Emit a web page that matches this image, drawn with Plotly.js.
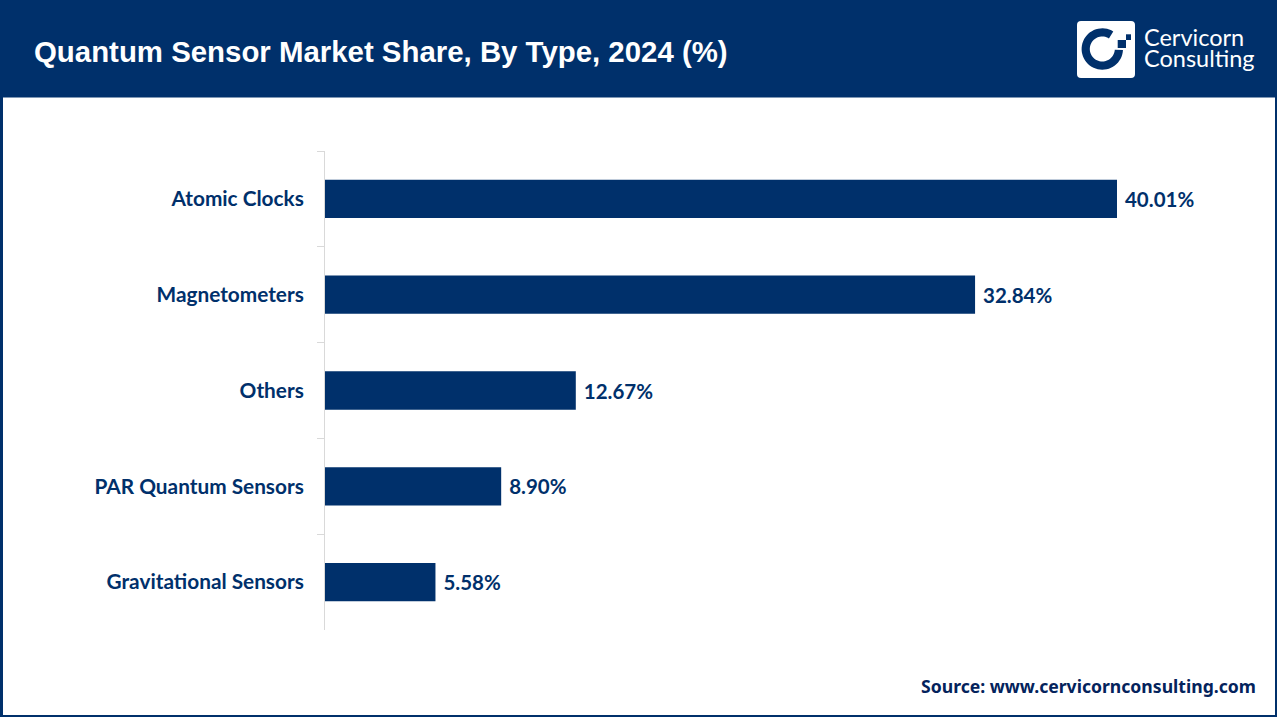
<!DOCTYPE html>
<html><head><meta charset="utf-8">
<script src="https://cdn.plot.ly/plotly-3.0.1.min.js"></script>
<style>html,body{margin:0;padding:0;background:#fff}#c{width:1280px;height:720px}</style>
</head><body><div id="c"></div>
<script>
const categories = ["Atomic Clocks","Magnetometers","Others","PAR Quantum Sensors","Gravitational Sensors"];
const shareValues = [40.01,32.84,12.67,8.90,5.58];
const chartTitle = "Quantum Sensor Market Share, By Type, 2024 (%)";
const sourceText = "Source: www.cervicornconsulting.com";
const logoLines = ["Cervicorn","Consulting"];

const W=1280,H=720,NAVY="#00306b";
const M={l:325,r:10,t:151,b:90};
const px=x=>(x-M.l)/(W-M.l-M.r), py=y=>1-(y-M.t)/(H-M.t-M.b);
const rect=(x0,y0,x1,y1,fill,line)=>({type:"rect",xref:"paper",yref:"paper",x0:px(x0),x1:px(x1),y0:py(y0),y1:py(y1),fillcolor:fill,line:line||{width:0},layer:"above"});
const P=(x,y)=>px(x).toFixed(5)+","+py(y).toFixed(5);
function roundRect(x0,y0,x1,y1,r){
  return "M"+P(x0+r,y0)+" L"+P(x1-r,y0)+" Q"+P(x1,y0)+" "+P(x1,y0+r)+" L"+P(x1,y1-r)+" Q"+P(x1,y1)+" "+P(x1-r,y1)+
   " L"+P(x0+r,y1)+" Q"+P(x0,y1)+" "+P(x0,y1-r)+" L"+P(x0,y0+r)+" Q"+P(x0,y0)+" "+P(x0+r,y0)+" Z";
}
function ring(cx,cy,ro,ri,a0,a1){
  const pts=[];
  for(let i=0;i<=48;i++){const a=(a0+(a1-a0)*i/48)*Math.PI/180;pts.push(P(cx+ro*Math.cos(a),cy+ro*Math.sin(a)));}
  for(let i=48;i>=0;i--){const a=(a0+(a1-a0)*i/48)*Math.PI/180;pts.push(P(cx+ri*Math.cos(a),cy+ri*Math.sin(a)));}
  return "M"+pts.join(" L")+" Z";
}
const pathShape=(d,fill)=>({type:"path",xref:"paper",yref:"paper",path:d,fillcolor:fill,line:{width:0},layer:"above"});

const shapes=[
  rect(0,0,1277,97.5,NAVY),
  rect(0,97,3,717,NAVY),
  rect(1275,97,1277,717,NAVY),
  rect(0,715,1277,717,NAVY),
  pathShape(roundRect(1077,21,1135,78,4),"#ffffff"),
  pathShape(ring(1102.3,49,20.7,12.5,3,302),NAVY),
  rect(1117.7,40,1126,48,NAVY),
  rect(1126,34.3,1131,40,NAVY)
];

const logoFont={family:"Lato, sans-serif",size:23.5,color:"#ffffff"};
const annotations=[
  {xref:"paper",yref:"paper",x:px(1142),y:py(37),xanchor:"left",yanchor:"middle",showarrow:false,text:logoLines[0],font:logoFont},
  {xref:"paper",yref:"paper",x:px(1142),y:py(58),xanchor:"left",yanchor:"middle",showarrow:false,text:logoLines[1],font:logoFont},
  {xref:"paper",yref:"paper",x:px(1258),y:py(686),xanchor:"right",yanchor:"middle",showarrow:false,text:"<b>"+sourceText+"</b>",font:{family:"'Noto Sans', sans-serif",size:17.6,color:"#04235c"}}
];

Plotly.newPlot("c",[{
  type:"bar",orientation:"h",y:categories,x:shareValues,
  marker:{color:NAVY,line:{width:0}},width:0.4,
  text:shareValues.map(v=>"\u00a0"+v.toFixed(2)+"%"),textposition:"outside",cliponaxis:false,
  textfont:{family:"Lato, sans-serif",size:20.5,color:NAVY,weight:700},
  hoverinfo:"y+x"
}],{
  width:W,height:H,margin:{l:M.l,r:M.r,t:M.t,b:M.b,pad:0},
  paper_bgcolor:"#ffffff",plot_bgcolor:"#ffffff",showlegend:false,
  title:{text:"<b>"+chartTitle+"</b>",xref:"container",yref:"container",x:34/W,xanchor:"left",y:1-52/H,yanchor:"middle",font:{family:"'Liberation Sans', Arial, sans-serif",size:29.4,color:"#ffffff"}},
  xaxis:{range:[0,(W-M.l-M.r)/19.795],visible:false,fixedrange:true},
  yaxis:{type:"category",categoryorder:"array",categoryarray:categories,autorange:false,range:[4.5,-0.5],
    showline:true,linecolor:"#d9d9d9",linewidth:1,showgrid:false,zeroline:false,
    ticks:"outside",tickson:"boundaries",ticklen:7,tickcolor:"#d9d9d9",tickwidth:1,ticklabelstandoff:16,
    tickfont:{family:"Lato, sans-serif",size:20.8,color:NAVY,weight:700},fixedrange:true},
  shapes,annotations
},{displayModeBar:false,responsive:false});
</script></body></html>
